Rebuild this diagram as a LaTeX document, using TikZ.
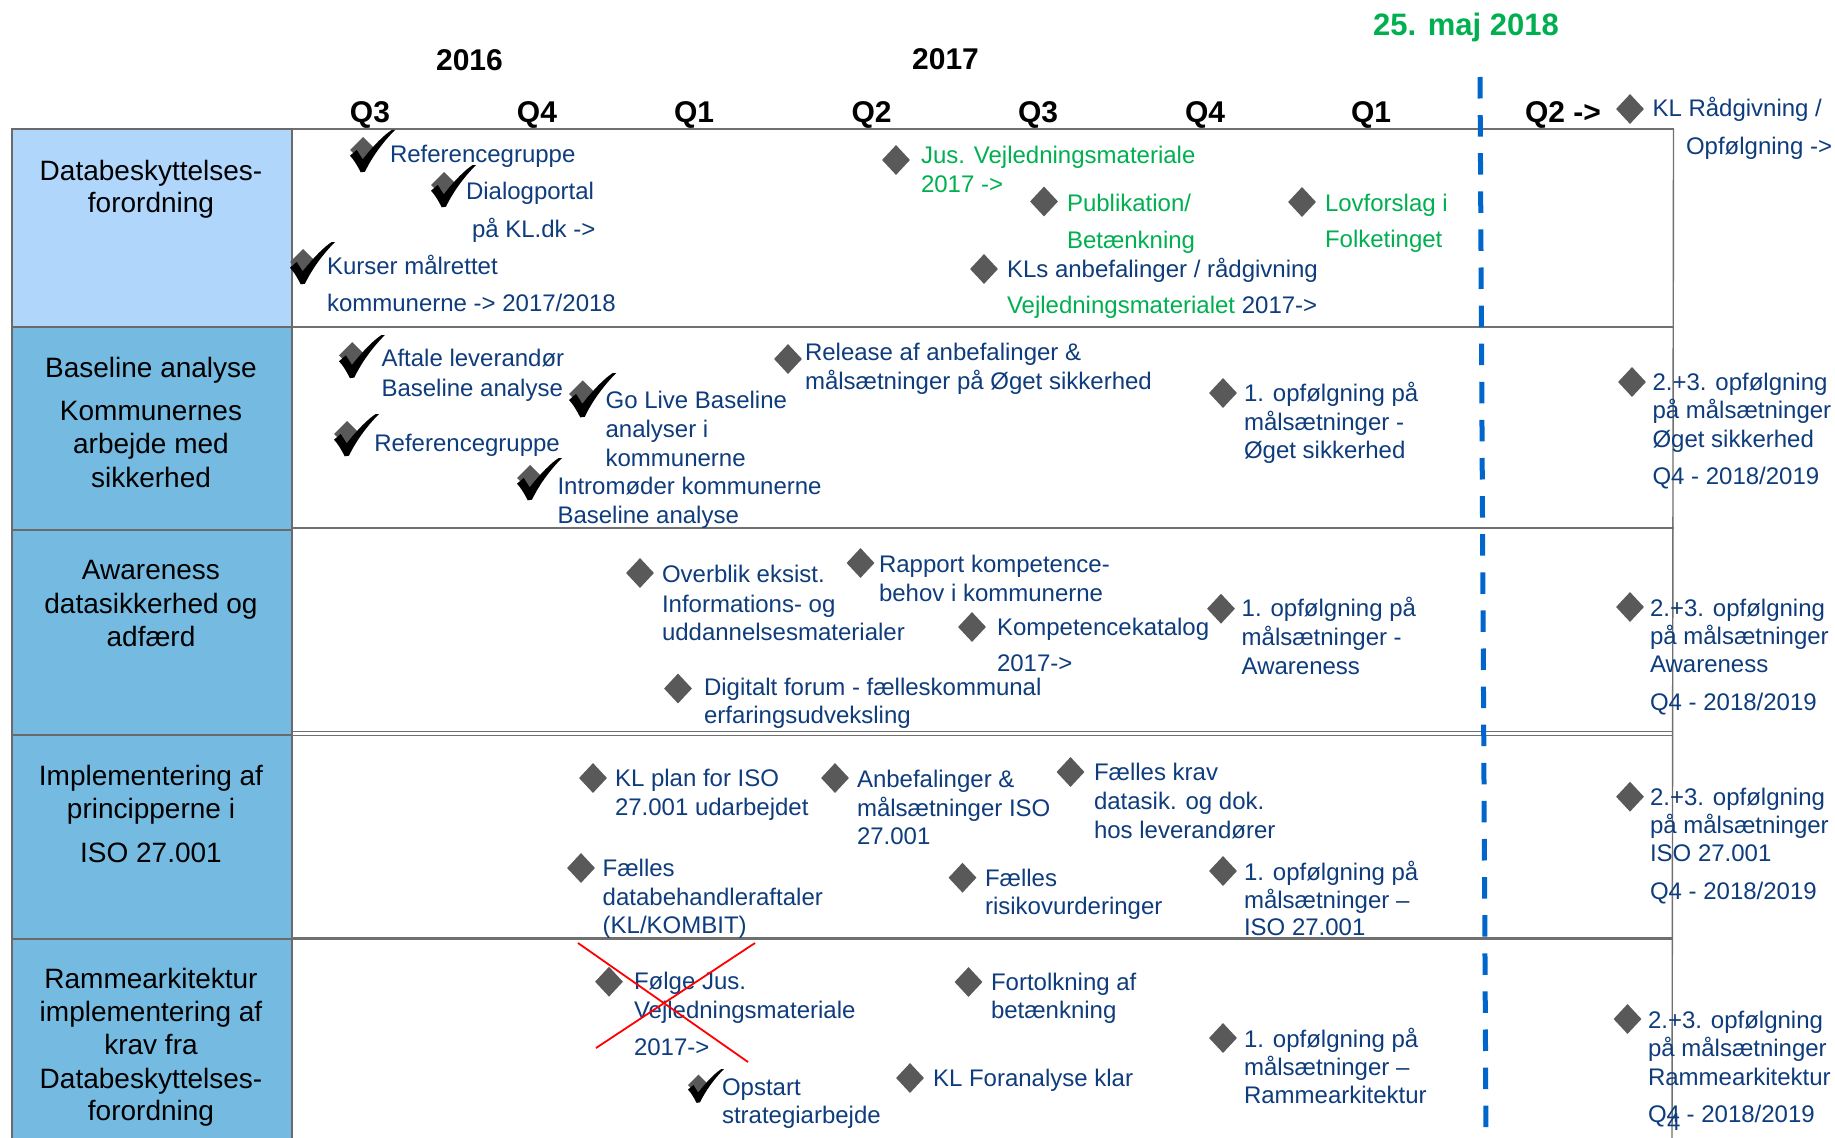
\documentclass[tikz,border=0pt]{standalone}
\usepackage{fontspec}
\setmainfont{Liberation Sans}
\usetikzlibrary{shapes.geometric}
\definecolor{navy}{HTML}{0E3C7C}
\definecolor{grn}{HTML}{00B050}
\definecolor{dgray}{HTML}{595959}
\definecolor{lblue}{HTML}{B0D6FC}
\definecolor{mblue}{HTML}{74BAE1}
\definecolor{cellline}{HTML}{6A6A6A}
\definecolor{rowline}{HTML}{707070}
\definecolor{dblue}{HTML}{0066CC}
\newcommand\mycheck[3]{%
 \begin{scope}[shift={(#1,#2)},scale=#3]
  \fill[dgray] (13,7) -- (26,20) -- (13,33) -- (0,20) -- cycle;
  \fill[black] (0,25.7) -- (6.7,20) .. controls (9,23.5) .. (12.7,29.3) .. controls (24,15) and (34,5) .. (41.7,0) -- (45,0) .. controls (33,12) and (22,27) .. (15,41.7) -- (10.7,42.3) .. controls (7,35) and (4,30) .. cycle;
 \end{scope}}
\begin{document}
\begin{tikzpicture}[x=1pt,y=-1pt,
  txt/.style={anchor=base west,inner sep=0pt,outer sep=0pt,text=navy,font=\fontsize{24}{29}\selectfont},
  gtxt/.style={txt,text=grn},
  lab/.style={anchor=base,inner sep=0pt,text=black,font=\fontsize{28}{33}\selectfont},
  hdr/.style={anchor=base,inner sep=0pt,text=black,font=\bfseries\fontsize{30}{36}\selectfont},
  dia/.style={diamond,fill=dgray,draw=none,inner sep=0pt,minimum width=28pt,minimum height=30pt},
  tline/.style={draw=rowline,line width=2.2pt}]
\useasboundingbox (0,0) rectangle (1835,1137);
\fill[white] (0,0) rectangle (1835,1137);

% left column cells
\filldraw[fill=lblue,draw=cellline,line width=2pt] (11.5,129) rectangle (291.5,327);
\filldraw[fill=mblue,draw=cellline,line width=2pt] (11.5,327) rectangle (291.5,530);
\filldraw[fill=mblue,draw=cellline,line width=2pt] (11.5,530) rectangle (291.5,735);
\filldraw[fill=mblue,draw=cellline,line width=2pt] (11.5,735) rectangle (291.5,939);
\filldraw[fill=mblue,draw=cellline,line width=2pt] (11.5,939) rectangle (291.5,1142);

% table lines
\draw[tline] (291.5,129) -- (1674,129);
\draw[tline] (291.5,327) -- (1674,327);
\draw[tline] (291.5,528) -- (1674,528);
\draw[draw=rowline,line width=1.8pt] (291.5,731.5) -- (1673,731.5);
\draw[draw=rowline,line width=1.8pt] (291.5,735.5) -- (1673,735.5);
\draw[tline] (291.5,938.5) -- (1673,938.5);
\draw[draw=rowline,line width=1.4pt] (1673.5,129) -- (1672,1140);

% deadline line
\draw[dblue,line width=5pt,dash pattern=on 21.5pt off 16.6pt] (1480,77) -- (1486,1137);

% headers
\node[anchor=base,inner sep=0pt,text=grn,font=\bfseries\fontsize{31}{36}\selectfont] (dead) at (1466,36) {25. maj 2018};
\node[hdr] (y16) at (469.5,70.5) {2016};
\node[hdr] (y17) at (945.5,69.5) {2017};
\node[hdr] (q3a) at (370,122.5) {Q3};
\node[hdr] (q4a) at (537,122.5) {Q4};
\node[hdr] (q1a) at (694,122.5) {Q1};
\node[hdr] (q2a) at (871.5,122.5) {Q2};
\node[hdr] (q3b) at (1038,122.5) {Q3};
\node[hdr] (q4b) at (1205,122.5) {Q4};
\node[hdr] (q1b) at (1371,122.5) {Q1};
\node[hdr] (q2b) at (1563,122.5) {Q2 ->};

% row labels
\node[lab] (l1a) at (151,180) {Databeskyttelses-};
\node[lab] (l1b) at (151,212.7) {forordning};
\node[lab] (l2a) at (151,377.3) {Baseline analyse};
\node[lab] (l2b) at (151,420) {Kommunernes};
\node[lab] (l2c) at (151,453.3) {arbejde med};
\node[lab] (l2d) at (151,487.3) {sikkerhed};
\node[lab] (l3a) at (151,579) {Awareness};
\node[lab] (l3b) at (151,613.3) {datasikkerhed og};
\node[lab] (l3c) at (151,646.7) {adfærd};
\node[lab] (l4a) at (151,785) {Implementering af};
\node[lab] (l4b) at (151,818.3) {principperne i};
\node[lab] (l4c) at (151,862.7) {ISO 27.001};
\node[lab] (l5a) at (151,988.3) {Rammearkitektur};
\node[lab] (l5b) at (151,1021.7) {implementering af};
\node[lab] (l5c) at (151,1054) {krav fra};
\node[lab] (l5d) at (151,1088.3) {Databeskyttelses-};
\node[lab] (l5e) at (151,1120) {forordning};

% ---- row 1
\mycheck{350}{130}{1}
\node[txt] (r1a) at (390,162) {Referencegruppe};
\mycheck{431}{165}{1}
\node[txt] (r1b) at (466,199.5) {Dialogportal};
\node[txt] (r1b2) at (472,237) {på KL.dk ->};
\mycheck{290}{242}{1}
\node[txt] (r1c) at (327,274) {Kurser målrettet};
\node[txt] (r1c2) at (327,311.7) {kommunerne -> 2017/2018};
\node[dia] (d1d) at (896,160) {};
\node[gtxt] (r1d) at (921,163) {Jus. Vejledningsmateriale};
\node[gtxt] (r1d2) at (921,192) {2017 ->};
\node[dia] (d1e) at (1044,201.5) {};
\node[gtxt] (r1e) at (1067,211) {Publikation/};
\node[gtxt] (r1e2) at (1067,248) {Betænkning};
\node[dia] (d1f) at (1302,202) {};
\node[gtxt] (r1f) at (1325,211) {Lovforslag i};
\node[gtxt] (r1f2) at (1325,247) {Folketinget};
\node[dia] (d1g) at (984,269) {};
\node[txt] (r1g) at (1007,277) {KLs anbefalinger / rådgivning};
\node[txt] (r1g2) at (1007,313) {{\color{grn}Vejledningsmaterialet} 2017->};
\node[dia] (d1h) at (1630,109) {};
\node[txt] (r1h) at (1652.5,117) {KL Rådgivning /};
\node[txt] (r1h2) at (1686,154) {Opfølgning ->};

% ---- row 2
\mycheck{339}{335}{1.02}
\node[txt] (r2a) at (381.5,366.7) {Aftale leverandør};
\node[txt] (r2a2) at (381.5,396) {Baseline analyse};
\mycheck{334}{414}{1}
\node[txt] (r2b) at (374.4,451.7) {Referencegruppe};
\mycheck{569}{373}{1.05}
\node[txt] (r2c) at (605.6,408.3) {Go Live Baseline};
\node[txt] (r2c2) at (605.6,437.3) {analyser i};
\node[txt] (r2c3) at (605.6,466.7) {kommunerne};
\mycheck{517}{458}{1}
\node[txt] (r2d) at (557.5,494) {Intromøder kommunerne};
\node[txt] (r2d2) at (557.5,523.3) {Baseline analyse};
\node[dia] (d2e) at (788,359) {};
\node[txt] (r2e) at (805,360.7) {Release af anbefalinger \&};
\node[txt] (r2e2) at (805,389.3) {målsætninger på Øget sikkerhed};
\node[dia] (d2f) at (1223,393) {};
\node[txt] (r2f) at (1244,401.7) {1. opfølgning på};
\node[txt] (r2f2) at (1244,430) {målsætninger -};
\node[txt] (r2f3) at (1244,458.3) {Øget sikkerhed};
\node[dia] (d2g) at (1632,382) {};
\node[txt] (r2g) at (1652.5,390) {2.+3. opfølgning};
\node[txt] (r2g2) at (1652.5,418.3) {på målsætninger};
\node[txt] (r2g3) at (1652.5,447.3) {Øget sikkerhed};
\node[txt] (r2g4) at (1652.5,484.3) {Q4 - 2018/2019};

% ---- row 3
\node[dia] (d3a) at (640,573) {};
\node[txt] (r3a) at (662,582.7) {Overblik eksist.};
\node[txt] (r3a2) at (662,612) {Informations- og};
\node[txt] (r3a3) at (662,640.7) {uddannelsesmaterialer};
\node[dia] (d3b) at (860.5,563) {};
\node[txt] (r3b) at (879,572.3) {Rapport kompetence-};
\node[txt] (r3b2) at (879,601) {behov i kommunerne};
\node[dia] (d3c) at (678,688.5) {};
\node[txt] (r3c) at (704,695) {Digitalt forum - fælleskommunal};
\node[txt] (r3c2) at (704,723.3) {erfaringsudveksling};
\node[dia] (d3d) at (972,627) {};
\node[txt] (r3d) at (997,635) {Kompetencekatalog};
\node[txt] (r3d2) at (997,671.7) {2017->};
\node[dia] (d3e) at (1221,608.7) {};
\node[txt] (r3e) at (1241.7,616.7) {1. opfølgning på};
\node[txt] (r3e2) at (1241.7,645) {målsætninger -};
\node[txt] (r3e3) at (1241.7,674) {Awareness};
\node[dia] (d3f) at (1630,607) {};
\node[txt] (r3f) at (1650,616) {2.+3. opfølgning};
\node[txt] (r3f2) at (1650,644) {på målsætninger};
\node[txt] (r3f3) at (1650,672.7) {Awareness};
\node[txt] (r3f4) at (1650,710.7) {Q4 - 2018/2019};

% ---- row 4
\node[dia] (d4a) at (593,778) {};
\node[txt] (r4a) at (615,786.7) {KL plan for ISO};
\node[txt] (r4a2) at (615,815) {27.001 udarbejdet};
\node[dia] (d4b) at (835,778) {};
\node[txt] (r4b) at (857,787.7) {Anbefalinger \&};
\node[txt] (r4b2) at (857,816.7) {målsætninger ISO};
\node[txt] (r4b3) at (857,844) {27.001};
\node[dia] (d4c) at (581,868) {};
\node[txt] (r4c) at (602.7,876) {Fælles};
\node[txt] (r4c2) at (602.7,905) {databehandleraftaler};
\node[txt] (r4c3) at (602.7,933.3) {(KL/KOMBIT)};
\node[dia] (d4d) at (1070.5,772) {};
\node[txt] (r4d) at (1094,780.7) {Fælles krav};
\node[txt] (r4d2) at (1094,809.3) {datasik. og dok.};
\node[txt] (r4d3) at (1094,838.3) {hos leverandører};
\node[dia] (d4e) at (962.5,877.7) {};
\node[txt] (r4e) at (985,886) {Fælles};
\node[txt] (r4e2) at (985,914.3) {risikovurderinger};
\node[dia] (d4f) at (1223,871) {};
\node[txt] (r4f) at (1244,880) {1. opfølgning på};
\node[txt] (r4f2) at (1244,908.3) {målsætninger –};
\node[txt] (r4f3) at (1244,935) {ISO 27.001};
\node[dia] (d4g) at (1630,796.7) {};
\node[txt] (r4g) at (1650,805) {2.+3. opfølgning};
\node[txt] (r4g2) at (1650,833.3) {på målsætninger};
\node[txt] (r4g3) at (1650,861.7) {ISO 27.001};
\node[txt] (r4g4) at (1650,899.3) {Q4 - 2018/2019};

% ---- row 5
\node[dia] (d5a) at (609,981.7) {};
\node[txt] (r5a) at (634,989.3) {Følge Jus.};
\node[txt] (r5a2) at (634,1018.3) {Vejledningsmateriale};
\node[txt] (r5a3) at (634,1055) {2017->};
\coordinate (xa1) at (578,943);
\coordinate (xa2) at (748,1062);
\coordinate (xb1) at (755,943);
\coordinate (xb2) at (596,1048);
\draw[red,line width=1.8pt] (xa1) -- (xa2);
\draw[red,line width=1.8pt] (xb1) -- (xb2);
\mycheck{688}{1069}{0.8}
\node[txt] (r5b) at (722,1095) {Opstart};
\node[txt] (r5b2) at (722,1123.3) {strategiarbejde};
\node[dia] (d5c) at (910,1078) {};
\node[txt] (r5c) at (933,1086) {KL Foranalyse klar};
\node[dia] (d5d) at (968.5,982) {};
\node[txt] (r5d) at (991,990) {Fortolkning af};
\node[txt] (r5d2) at (991,1018.3) {betænkning};
\node[dia] (d5e) at (1223,1038) {};
\node[txt] (r5e) at (1244,1047.3) {1. opfølgning på};
\node[txt] (r5e2) at (1244,1075) {målsætninger –};
\node[txt] (r5e3) at (1244,1103.3) {Rammearkitektur};
\node[dia] (d5f) at (1627.5,1019) {};
\node[txt] (r5f) at (1648,1028.3) {2.+3. opfølgning};
\node[txt] (r5f2) at (1648,1056.7) {på målsætninger};
\node[txt] (r5f3) at (1648,1085) {Rammearkitektur};
\node[txt] (r5f4) at (1648,1122.7) {Q4 - 2018/2019};
\node[txt] (pgno) at (1667,1130) {4};
\end{tikzpicture}
\end{document}
